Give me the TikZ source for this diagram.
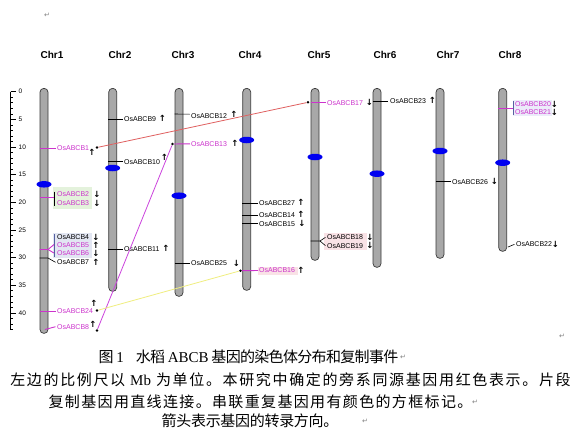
\documentclass[tikz,border=0pt]{standalone}
\usepackage{fontspec}
\setmainfont{Liberation Sans}
\newfontfamily\cjkA[LetterSpace=-4.5]{Noto Sans CJK SC}
\newfontfamily\cjkB[LetterSpace=11]{Noto Sans CJK SC}
\newfontfamily\cjkC[LetterSpace=9]{Noto Sans CJK SC}
\newfontfamily\cjkD[LetterSpace=-2]{Noto Sans CJK SC}
\newfontfamily\lser{Liberation Serif}
\newfontfamily\dvs{DejaVu Sans}
\usetikzlibrary{shapes.geometric}
\definecolor{chrgray}{HTML}{A8A8A8}
\definecolor{chredge}{HTML}{3A3A3A}
\definecolor{magen}{HTML}{CC33CC}
\definecolor{dupred}{HTML}{E06060}
\definecolor{dupmag}{HTML}{CC44DD}
\definecolor{dupyel}{HTML}{F0EE80}
\definecolor{cenblue}{HTML}{0000F0}
\definecolor{boxgreen}{HTML}{E4F2DC}
\definecolor{boxblue}{HTML}{E2E6F2}
\definecolor{boxpink}{HTML}{F9E2E6}
\definecolor{boxlav}{HTML}{ECECFA}
\definecolor{brblue}{HTML}{5560A0}
\tikzset{
  chrom/.style={draw=chredge, fill=chrgray, line width=0.7pt, rounded corners=3.8pt, minimum width=8pt, inner sep=0pt, anchor=north},
  cen/.style={ellipse, fill=cenblue, minimum width=15pt, minimum height=6.5pt, inner sep=0pt},
  chrlab/.style={font=\bfseries\fontsize{10}{12}\selectfont, inner sep=0pt},
  gene/.style={font=\fontsize{7}{8}\selectfont, inner sep=0pt, anchor=west},
  mg/.style={text=magen},
  arr/.style={font=\dvs\bfseries\fontsize{8.5}{9}\selectfont, inner sep=0pt},
  tk/.style={line width=0.6pt, black},
  mtk/.style={line width=0.9pt, magen},
  btk/.style={line width=0.8pt, brblue},
  dot/.style={circle, fill=black, minimum size=2.8pt, inner sep=0pt},
  dupline/.style={line width=0.8pt},
  ruler/.style={line width=0.6pt},
  rlab/.style={font=\fontsize{6.5}{7}\selectfont, anchor=west, inner sep=0pt},
  captext/.style={inner sep=0pt},
  ret/.style={font=\dvs\fontsize{7}{8}\selectfont, text=gray, inner sep=0pt}
}
\begin{document}
\begin{tikzpicture}[x=1pt,y=-1pt]
\useasboundingbox (0,0) rectangle (580,432);
\fill[white] (0,0) rectangle (580,432);

% ruler
\draw[ruler] (10.5,91.7) -- (10.5,329.5);
\foreach \i in {0,...,43}{
  \draw[ruler] (10.5,91.7+5.53*\i) -- (13,91.7+5.53*\i);
}
\foreach \i in {0,5,...,40}{
  \draw[ruler] (10.5,91.7+5.53*\i) -- (15.5,91.7+5.53*\i);
  \node[rlab] (r\i) at (18.5,91.7+5.53*\i) {\i};
}

% tandem boxes
\fill[boxgreen] (53,187) rectangle (92,208.5);
\fill[boxblue] (53,233) rectangle (91.5,257.5);
\fill[boxpink] (257.5,266.5) rectangle (298,274.5);
\fill[boxpink] (324,232.5) rectangle (367,250);
\fill[boxlav] (513,100) rectangle (552,116);

% chromosome labels
\node[chrlab] (t1) at (52,55) {Chr1};
\node[chrlab] (t2) at (120,55) {Chr2};
\node[chrlab] (t3) at (183,55) {Chr3};
\node[chrlab] (t4) at (250,55) {Chr4};
\node[chrlab] (t5) at (319,55) {Chr5};
\node[chrlab] (t6) at (385,55) {Chr6};
\node[chrlab] (t7) at (448,55) {Chr7};
\node[chrlab] (t8) at (510,55) {Chr8};

% chromosomes
\node[chrom, minimum height=245pt] (c1) at (44,88) {};
\node[chrom, minimum height=203pt] (c2) at (112.7,88) {};
\node[chrom, minimum height=208pt] (c3) at (179,88) {};
\node[chrom, minimum height=202pt] (c4) at (246.7,88) {};
\node[chrom, minimum height=172pt] (c5) at (315,88) {};
\node[chrom, minimum height=179pt] (c6) at (377,88) {};
\node[chrom, minimum height=170pt] (c7) at (440,88) {};
\node[chrom, minimum height=163pt] (c8) at (502.7,88) {};

% centromeres
\node[cen] (k1) at (44,184.3) {};
\node[cen] (k2) at (112.7,168) {};
\node[cen] (k3) at (179,195.7) {};
\node[cen] (k4) at (246.7,140) {};
\node[cen] (k5) at (315,157) {};
\node[cen] (k6) at (377,173.7) {};
\node[cen] (k7) at (440,151) {};
\node[cen] (k8) at (502.7,162.7) {};

% ---- Chr1 genes
\node[gene,mg] (g1) at (57,148.3) {OsABCB1};
\draw[mtk] (c1.west |- g1.west) -- ([xshift=-1.5pt]g1.west);
\node[arr] (a1) at (92,152.5) {↑};
\node[dot] (d1) at (97,147.5) {};

\node[gene,mg] (g2) at (57,194.3) {OsABCB2};
\node[gene,mg] (g3) at (57,203.3) {OsABCB3};
\coordinate (b2) at (54.3,191.5);
\coordinate (b3) at (54.3,206);
\coordinate (b23) at (54.3,197.5);
\draw[tk] (b2) -- (b3);
\draw[mtk] (c1.west |- b23) -- (b23);
\node[arr] (a2) at (97,194.3) {↓};
\node[arr] (a3) at (97,203.3) {↓};

\node[gene] (g4) at (57,237.3) {OsABCB4};
\node[gene,mg] (g5) at (57,245.3) {OsABCB5};
\node[gene,mg] (g6) at (57,253.5) {OsABCB6};
\coordinate (b4) at (54,234);
\coordinate (b6) at (54,256.5);
\coordinate (b45) at (54,244.5);
\coordinate (b56) at (54,253);
\coordinate (m456) at (48,249.5);
\draw[btk] (b4) -- (b6);
\draw[mtk] (c1.west |- m456) -- (m456) -- (b45);
\draw[mtk] (m456) -- (b56);
\node[arr] (a4) at (96,237.3) {↓};
\node[arr] (a5) at (96,245.3) {↑};
\node[arr] (a6) at (96,253.5) {↓};

\node[gene] (g7) at (57,262.3) {OsABCB7};
\coordinate (m7) at (48,258);
\draw[tk] (c1.west |- m7) -- (m7) -- ([xshift=-1.5pt]g7.west);
\node[arr] (a7) at (96,262.3) {↑};

\node[gene,mg] (g24) at (57,311) {OsABCB24};
\draw[mtk] (c1.west |- g24.west) -- ([xshift=-1.5pt]g24.west);
\node[arr] (a24) at (94,303) {↑};
\node[dot] (d24) at (97,310.5) {};

\node[gene,mg] (g8) at (57,326.7) {OsABCB8};
\coordinate (m8) at (45,329.5);
\draw[mtk] (m8) -- ([xshift=-1.5pt]g8.west);
\node[arr] (a8) at (93,324.5) {↑};
\node[dot] (d8) at (97,330.5) {};

% ---- Chr2 genes
\node[gene] (g9) at (124,119) {OsABCB9};
\draw[tk] (c2.west |- g9.west) -- ([xshift=-1.5pt]g9.west);
\node[arr] (a9) at (162.5,118.5) {↑};
\node[gene] (g10) at (124,161.7) {OsABCB10};
\draw[tk] (c2.west |- g10.west) -- ([xshift=-1.5pt]g10.west);
\node[arr] (a10) at (164.5,157.5) {↑};
\node[gene] (g11) at (124,249.3) {OsABCB11};
\draw[tk] (c2.west |- g11.west) -- ([xshift=-1.5pt]g11.west);
\node[arr] (a11) at (166,248.8) {↑};

% ---- Chr3 genes
\node[gene] (g12) at (191,115.7) {OsABCB12};
\draw[tk] (c3.west |- 0,114) -- ([xshift=-1.5pt,yshift=1.5pt]g12.west);
\node[arr] (a12) at (234,114.8) {↑};
\node[gene,mg] (g13) at (191,143.8) {OsABCB13};
\node[dot] (d13) at (172.5,144) {};
\draw[mtk] (d13) -- ([xshift=-1pt]g13.west);
\node[arr] (a13) at (235,143.5) {↑};
\node[gene] (g25) at (191,263.3) {OsABCB25};
\draw[tk] (c3.west |- g25.west) -- ([xshift=-1.5pt]g25.west);
\node[arr] (a25) at (236.5,263) {↓};

% ---- Chr4 genes
\node[gene] (g27) at (259,202.8) {OsABCB27};
\draw[tk] (c4.west |- g27.west) -- ([xshift=-1.5pt]g27.west);
\node[arr] (a27) at (301,202) {↑};
\node[gene] (g14) at (259,215.3) {OsABCB14};
\draw[tk] (c4.west |- g14.west) -- ([xshift=-1.5pt]g14.west);
\node[arr] (a14) at (301,214.3) {↑};
\node[gene] (g15) at (259,223.7) {OsABCB15};
\draw[tk] (c4.west |- g15.west) -- ([xshift=-1.5pt]g15.west);
\node[arr] (a15) at (302,223.5) {↓};
\node[gene,mg] (g16) at (259,270.5) {OsABCB16};
\node[dot] (d16) at (240.5,270.7) {};
\draw[mtk] (d16) -- ([xshift=-1pt]g16.west);
\node[arr] (a16) at (301,270) {↑};

% ---- Chr5 genes
\node[gene,mg] (g17) at (327,102.7) {OsABCB17};
\node[dot] (d17) at (308,102.3) {};
\draw[mtk] (c5.west |- g17.west) -- ([xshift=-1pt]g17.west);
\node[arr] (a17) at (369.5,102.7) {↓};
\node[gene] (g18) at (327,237.3) {OsABCB18};
\node[gene] (g19) at (327,245.7) {OsABCB19};
\coordinate (m1819) at (320,241);
\draw[tk] (c5.west |- m1819) -- (m1819) -- ([xshift=-1.5pt]g18.west);
\draw[tk] (m1819) -- ([xshift=-1.5pt]g19.west);
\node[arr] (a18) at (370,237) {↓};
\node[arr] (a19) at (370,245.5) {↓};

% ---- Chr6 gene
\node[gene] (g23) at (390,100.8) {OsABCB23};
\draw[tk] (c6.west |- g23.west) -- ([xshift=-2pt]g23.west);
\node[arr] (a23) at (432.5,100.3) {↑};

% ---- Chr7 gene
\node[gene] (g26) at (452,181.7) {OsABCB26};
\draw[tk] (c7.west |- g26.west) -- ([xshift=-1.5pt]g26.west);
\node[arr] (a26) at (494.5,181.5) {↓};

% ---- Chr8 genes
\node[gene,mg] (g20) at (515,104) {OsABCB20};
\node[gene,mg] (g21) at (515,112.3) {OsABCB21};
\coordinate (b20) at (513,101);
\coordinate (b21) at (513,115);
\coordinate (b2021) at (513,108);
\draw[btk] (b20) -- (b21);
\draw[mtk] (c8.west |- b2021) -- (b2021);
\node[arr] (a20) at (554.5,104) {↓};
\node[arr] (a21) at (554.5,112.3) {↓};
\node[gene] (g22) at (516,244.3) {OsABCB22};
\coordinate (m22) at (508,247);
\draw[tk] (m22) -- ([xshift=-1.5pt]g22.west);
\node[arr] (a22) at (555.5,244.3) {↓};

% duplication connectors
\draw[dupline, dupred] (d1) -- (d17);
\draw[dupline, dupmag] (d8) -- (d13);
\draw[dupline, dupyel] (d24) -- (d16);

% caption
\node[captext, font=\cjkA\fontsize{15}{18}\selectfont] (cap1) at (248.5,357) {图 {\lser 1}\hspace{0.8em}水稻 {\lser ABCB} 基因的染色体分布和复制事件};
\node[captext, font=\cjkB\fontsize{15}{18}\selectfont] (cap2) at (290.5,380) {左边的比例尺以 {\lser Mb} 为单位。本研究中确定的旁系同源基因用红色表示。片段};
\node[captext, font=\cjkC\fontsize{15}{18}\selectfont] (cap3) at (260.5,401.5) {复制基因用直线连接。串联重复基因用有颜色的方框标记。};
\node[captext, font=\cjkD\fontsize{15}{18}\selectfont] (cap4) at (250,421) {箭头表示基因的转录方向。};

% paragraph marks
\node[ret] (p0) at (47,15) {↵};
\node[ret] (p1) at (403,357) {↵};
\node[ret] (p3) at (475,402) {↵};
\node[ret] (p4) at (365,421.5) {↵};
\node[ret] (p5) at (562,336) {↵};
\end{tikzpicture}
\end{document}
